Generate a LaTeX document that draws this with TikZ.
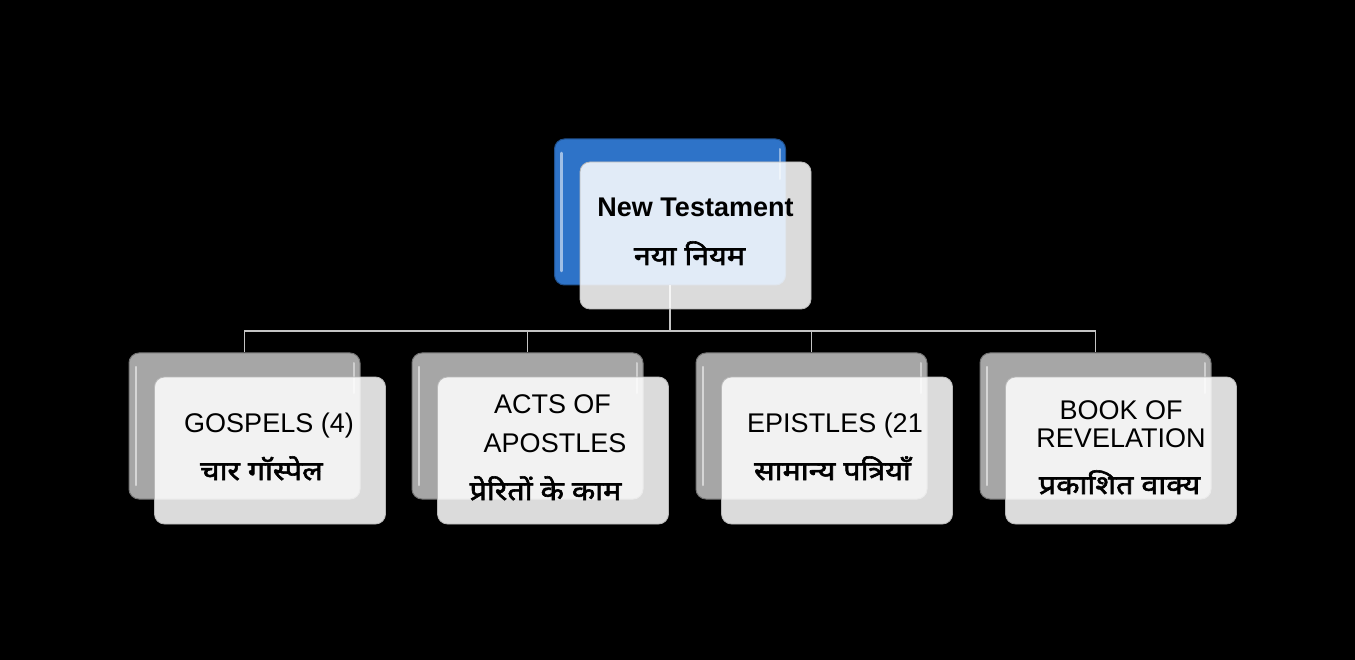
\documentclass[tikz,border=0pt]{standalone}
\usepackage{fontspec}
\setmainfont{Liberation Sans}
\newfontfamily\hindi[Script=Devanagari, FakeBold=2.2, FakeStretch=1.15]{Noto Sans}
\definecolor{bgblack}{HTML}{000000}
\definecolor{topblue}{HTML}{2E73C8}
\definecolor{backgray}{HTML}{A6A6A6}
\definecolor{connline}{HTML}{C4C4C4}
\tikzset{
  backbox/.style={rounded corners=10pt, minimum width=231pt, minimum height=146pt, inner sep=0pt,
    draw=#1!70!black, line width=1pt, fill=#1,
    path picture={
      \draw[white,opacity=0.55,line width=2.5pt,line cap=round]
        ([xshift=7pt,yshift=-14pt]path picture bounding box.north west) --
        ([xshift=7pt,yshift=14pt]path picture bounding box.south west);
      \draw[white,opacity=0.45,line width=2pt,line cap=round]
        ([xshift=-6pt,yshift=-10pt]path picture bounding box.north east) --
        ([xshift=-6pt,yshift=-40pt]path picture bounding box.north east);
    }},
  frontbox/.style={rounded corners=10pt, minimum width=231pt, minimum height=147pt, inner sep=0pt,
    draw=gray!55, line width=0.8pt, fill=white, fill opacity=0.86},
  conn/.style={draw=connline, line width=1.2pt},
  lat/.style={anchor=base, inner sep=0pt, font=\fontsize{27}{30}\selectfont},
  latb/.style={lat, font=\fontsize{27}{30}\selectfont\bfseries},
  hin/.style={anchor=base, inner sep=0pt, font=\hindi\fontsize{26.5}{30}\selectfont},
}
\begin{document}
\begin{tikzpicture}[x=1pt,y=-1pt]
\fill[bgblack] (0,0) rectangle (1355,660);
\useasboundingbox (0,0) rectangle (1355,660);

% back boxes
\node[backbox=topblue] (b0) at (670,212) {};
\node[backbox=backgray] (b1) at (244.5,426) {};
\node[backbox=backgray] (b2) at (527.5,426) {};
\node[backbox=backgray] (b3) at (811.5,426) {};
\node[backbox=backgray] (b4) at (1095.5,426) {};

% connectors
\coordinate (bus) at (670,331);
\draw[conn] (b0.south) -- (bus);
\draw[conn] (bus) -| (b1.north);
\draw[conn] (bus) -| (b2.north);
\draw[conn] (bus) -| (b3.north);
\draw[conn] (bus) -| (b4.north);

% front boxes
\node[frontbox] (f0) at (695.5,235.5) {};
\node[frontbox] (f1) at (270,450.5) {};
\node[frontbox] (f2) at (553,450.5) {};
\node[frontbox] (f3) at (837,450.5) {};
\node[frontbox] (f4) at (1121,450.5) {};

% texts
\node[latb] (t0a) at (695.5,217) {New Testament};
\node[hin]  (t0b) at (689.5,265) {नया नियम};

\node[lat] (t1a) at (269,432) {GOSPELS (4)};
\node[hin] (t1b) at (261.5,480) {चार गॉस्पेल};

\node[lat] (t2a) at (552.5,413) {ACTS OF};
\node[lat] (t2b) at (555,452) {APOSTLES};
\node[hin] (t2c) at (545.5,500) {प्रेरितों के काम};

\node[lat] (t3a) at (835,432) {EPISTLES (21};
\node[hin] (t3b) at (832.5,480) {सामान्य पत्रियाँ};

\node[lat] (t4a) at (1121,419) {BOOK OF};
\node[lat] (t4b) at (1121,447) {REVELATION};
\node[hin] (t4c) at (1119.5,494) {प्रकाशित वाक्य};
\end{tikzpicture}
\end{document}
